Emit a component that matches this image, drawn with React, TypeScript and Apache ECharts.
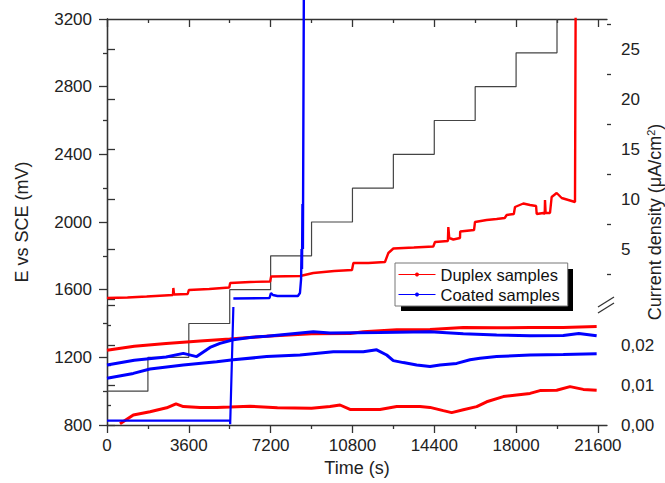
import React, { useEffect, useRef } from "react";
import * as echarts from "echarts";

// ---- axis ticks ----
const xTicksMajor = [0, 3600, 7200, 10800, 14400, 18000, 21600];
const xTicksMinor = [1800, 5400, 9000, 12600, 16200, 19800];
const upperTicksMajor = [0, 5, 10, 15, 20, 25];
const upperLabels = [5, 10, 15, 20, 25];
const upperTicksMinor = [2.5, 7.5, 12.5, 17.5, 22.5, 27.5];

// ---- applied potential staircase (mV vs SCE) ----
const stepTimes = [0, 1800, 3600, 5400, 7200, 9000, 10800, 12600, 14400, 16200, 18000, 19800];
const stepPotential = [1000, 1200, 1400, 1600, 1800, 2000, 2200, 2400, 2600, 2800, 3000, 3200];

// ---- current density, upper (broken) scale, µA/cm² ----
const duplexHigh: [number, number][] = [
  [0, 0.1], [900, 0.15], [1745, 0.25], [2900, 0.4], [2920, 1.1], [2950, 0.45], [3550, 0.5],
  [3600, 0.9], [4500, 1.0], [5380, 1.15], [5420, 1.6], [6300, 1.7], [7180, 1.75], [7220, 2.25],
  [8500, 2.3], [9077, 2.6], [10000, 2.8], [10780, 2.9], [10840, 3.6], [11500, 3.6], [12230, 3.7],
  [12380, 4.6], [12600, 5.05], [13500, 5.15], [14357, 5.25], [14432, 5.7], [15000, 5.8],
  [15018, 7.2], [15060, 6.1], [15238, 5.95], [15532, 6.1], [15540, 6.75], [16150, 6.9],
  [16192, 7.7], [16705, 7.9], [17145, 8.0], [17500, 8.1], [17587, 8.4], [17900, 8.5],
  [17952, 9.2], [18318, 9.55], [18612, 9.4], [18880, 9.3], [18906, 8.5], [19200, 8.6],
  [19260, 8.5], [19272, 9.9], [19300, 8.6], [19492, 8.6], [19565, 10.2], [19786, 10.6],
  [20006, 10.1], [20592, 9.7], [20636, 40],
];
const coatedHigh: [number, number][] = [
  [5560, 0.05], [7150, 0.1], [7215, 0.6], [7300, 0.4], [7500, 0.3], [8400, 0.3], [8490, 0.6],
  [8540, 2], [8560, 5], [8580, 3], [8600, 9.5], [8620, 5], [8660, 30],
];

// ---- current density, lower scale, µA/cm² ----
const duplexLowA: [number, number][] = [
  [0, 0.0187], [1200, 0.0197], [2600, 0.0204], [4100, 0.021], [5400, 0.0215], [7000, 0.0222],
  [9000, 0.0228], [10700, 0.0229], [11276, 0.0233], [12747, 0.0238], [14212, 0.0239],
  [15677, 0.0244], [17145, 0.0243], [18612, 0.0244], [20078, 0.0244], [21545, 0.0246],
];
const duplexLowB: [number, number][] = [
  [572, 0.0003], [1158, 0.0025], [1892, 0.0033], [2625, 0.0043], [3036, 0.0053], [3358, 0.0046],
  [4092, 0.0044], [4825, 0.0044], [5411, 0.0045], [6292, 0.0047], [7500, 0.0043], [9000, 0.0042],
  [9812, 0.0046], [10252, 0.005], [10692, 0.0039], [12012, 0.0039], [12747, 0.0046],
  [13772, 0.0046], [14212, 0.0044], [14798, 0.0036], [15166, 0.0031], [15677, 0.0038],
  [16266, 0.0046], [16706, 0.0058], [17438, 0.0071], [18025, 0.0075], [18612, 0.0079],
  [19052, 0.0086], [19786, 0.0087], [20372, 0.0096], [20958, 0.0089], [21545, 0.0087],
];
const coatedLowA: [number, number][] = [
  [0, 0.015], [1200, 0.0162], [2600, 0.017], [3358, 0.0179], [3945, 0.0171], [4532, 0.0194],
  [4972, 0.0204], [5558, 0.0213], [6292, 0.0219], [7026, 0.0222], [9077, 0.0233],
  [9812, 0.023], [12000, 0.0231], [14212, 0.0233], [15677, 0.0228], [17145, 0.0225],
  [18612, 0.0223], [20078, 0.0224], [20760, 0.0229], [21545, 0.0223],
];
const coatedLowB: [number, number][] = [
  [0, 0.0117], [1158, 0.0129], [1892, 0.014], [3358, 0.015], [4825, 0.0158], [5558, 0.0163],
  [7026, 0.0171], [8490, 0.0175], [9958, 0.0183], [11276, 0.0183], [11865, 0.0188],
  [12306, 0.0175], [12598, 0.0161], [13038, 0.0156], [13625, 0.015], [14212, 0.0146],
  [14652, 0.015], [15386, 0.0154], [15972, 0.0163], [16412, 0.0167], [17145, 0.0171],
  [18612, 0.0175], [20078, 0.0176], [21545, 0.0178],
];
const coatedLowC: [number, number][] = [
  [0, 0.0011], [5411, 0.0011], [5420, 0.0002], [5560, 0.0295],
];

const FONT = "'Liberation Sans', Arial, sans-serif";
const AXIS_COLOR = "#333";
const RED = "#ff0000";
const BLUE = "#0000ff";

const fmtPlain = (v: number) => String(v);
const fmtComma = (v: number) => (v > 0.029 ? "" : v.toFixed(2).replace(".", ","));

export default function App() {
  const ref = useRef<HTMLDivElement>(null);
  useEffect(() => {
    if (!ref.current) return;
    const chart = echarts.init(ref.current, undefined, { renderer: "svg" });
    const gridBase = { left: 107, right: 58, containLabel: false, outerBoundsMode: "none" } as any;
    const axisLine = { show: true, lineStyle: { color: AXIS_COLOR, width: 1.3 } };
    const labelStyle = { fontFamily: FONT, fontSize: 17, color: "#222" };

    const lineSeries = (name: string, data: any, color: string, width: number, xi: number, yi: number, extra: any = {}) => ({
      type: "line",
      name,
      data,
      xAxisIndex: xi,
      yAxisIndex: yi,
      symbol: "circle",
      symbolSize: 4,
      showSymbol: false,
      lineStyle: { color, width },
      itemStyle: { color },
      emphasis: { disabled: true },
      silent: true,
      ...extra,
    });

    chart.setOption({
      animation: false,
      backgroundColor: "#ffffff",
      grid: [
        { ...gridBase, top: 19, bottom: 58 },
        { ...gridBase, top: 305, bottom: 58 },
        { ...gridBase, top: 19, bottom: 184 },
      ],
      xAxis: [
        {
          gridIndex: 0, type: "value", position: "bottom", min: 0, max: 22000,
          axisLine,
          axisTick: { show: true, inside: false, length: 8, lineStyle: { color: AXIS_COLOR, width: 1.3 }, customValues: xTicksMajor },
          axisLabel: { ...labelStyle, margin: 12, customValues: xTicksMajor, formatter: fmtPlain },
          splitLine: { show: false },
          name: "Time (s)", nameLocation: "middle", nameGap: 31,
          nameTextStyle: { fontFamily: FONT, fontSize: 18, color: "#222" },
        },
        {
          gridIndex: 0, type: "value", position: "bottom", min: 0, max: 22000,
          axisLine: { show: false },
          axisTick: { show: true, inside: false, length: 4, lineStyle: { color: AXIS_COLOR, width: 1.3 }, customValues: xTicksMinor },
          axisLabel: { show: false },
          splitLine: { show: false },
        },
        {
          gridIndex: 0, type: "value", position: "top", min: 0, max: 22000,
          axisLine,
          axisTick: { show: true, inside: true, length: 8, lineStyle: { color: AXIS_COLOR, width: 1.3 }, customValues: xTicksMajor },
          axisLabel: { show: false },
          splitLine: { show: false },
        },
        {
          gridIndex: 0, type: "value", position: "top", min: 0, max: 22000,
          axisLine: { show: false },
          axisTick: { show: true, inside: true, length: 4, lineStyle: { color: AXIS_COLOR, width: 1.3 }, customValues: xTicksMinor },
          axisLabel: { show: false },
          splitLine: { show: false },
        },
        { gridIndex: 1, type: "value", min: 0, max: 22000, show: false },
        { gridIndex: 2, type: "value", min: 0, max: 22000, show: false },
      ],
      yAxis: [
        {
          gridIndex: 0, type: "value", position: "left", min: 800, max: 3200, interval: 400,
          axisLine,
          axisTick: { show: true, inside: false, length: 8, lineStyle: { color: AXIS_COLOR, width: 1.3 } },
          minorTick: { show: true, splitNumber: 2, length: 4, lineStyle: { color: AXIS_COLOR, width: 1.3 } },
          axisLabel: { ...labelStyle, margin: 15, formatter: fmtPlain },
          splitLine: { show: false },
          name: "E vs SCE (mV)", nameLocation: "middle", nameGap: 76,
          nameTextStyle: { fontFamily: FONT, fontSize: 18, color: "#222" },
        },
        {
          gridIndex: 0, type: "value", position: "right", min: 0, max: 1,
          axisLine: { show: false }, axisTick: { show: false }, axisLabel: { show: false },
          splitLine: { show: false },
          name: "{a|Current density (μA/cm}{s|2}{a|)}", nameLocation: "middle", nameGap: 38,
          nameTextStyle: {
            rich: {
              a: { fontFamily: FONT, fontSize: 18, color: "#222" },
              s: { fontFamily: FONT, fontSize: 11, color: "#222", padding: [0, 0, 9, 0] },
            },
          },
        },
        {
          gridIndex: 1, type: "value", position: "right", min: 0, max: 0.03, interval: 0.01,
          axisLine,
          axisTick: { show: true, inside: false, length: 8, lineStyle: { color: AXIS_COLOR, width: 1.3 } },
          minorTick: { show: true, splitNumber: 2, length: 4, lineStyle: { color: AXIS_COLOR, width: 1.3 } },
          axisLabel: { ...labelStyle, margin: 14, formatter: fmtComma },
          splitLine: { show: false },
        },
        {
          gridIndex: 2, type: "value", position: "right", min: 0, max: 28,
          axisLine,
          axisTick: { show: true, inside: false, length: 8, lineStyle: { color: AXIS_COLOR, width: 1.3 }, customValues: upperTicksMajor },
          axisLabel: { ...labelStyle, margin: 14, customValues: upperLabels, formatter: fmtPlain },
          splitLine: { show: false },
        },
        {
          gridIndex: 2, type: "value", position: "right", min: 0, max: 28,
          axisLine: { show: false },
          axisTick: { show: true, inside: false, length: 4, lineStyle: { color: AXIS_COLOR, width: 1.3 }, customValues: upperTicksMinor },
          axisLabel: { show: false },
          splitLine: { show: false },
        },
      ],
      legend: {
        orient: "vertical",
        left: 395,
        top: 263,
        padding: [3, 8, 3, 3],
        itemWidth: 37,
        itemHeight: 5,
        itemGap: 3,
        backgroundColor: "#ffffff",
        borderColor: "#777",
        borderWidth: 1,
        z: 10,
        selectedMode: false,
        textStyle: { fontFamily: FONT, fontSize: 16.5, color: "#111" },
        lineStyle: { width: 1 },
        data: ["Duplex samples", "Coated samples"],
      },
      graphic: [
        { type: "rect", z: 1, shape: { x: 401, y: 269, width: 172, height: 42 }, style: { fill: "#000" } },
        { type: "polygon", z: 20, shape: { points: [[598, 307], [614, 297], [614, 303], [598, 313]] }, style: { fill: "#fff" } },
        { type: "line", z: 21, shape: { x1: 598, y1: 307, x2: 614, y2: 297 }, style: { stroke: AXIS_COLOR, lineWidth: 1.3 } },
        { type: "line", z: 21, shape: { x1: 598, y1: 313, x2: 614, y2: 303 }, style: { stroke: AXIS_COLOR, lineWidth: 1.3 } },
      ],
      series: [
        {
          type: "line",
          data: stepTimes.map((t, i) => [t, stepPotential[i]]),
          xAxisIndex: 0, yAxisIndex: 0,
          step: "end",
          symbol: "none",
          lineStyle: { color: "#444", width: 1.2 },
          silent: true,
        },
        lineSeries("Duplex samples", duplexHigh, RED, 2.4, 5, 3),
        lineSeries("Coated samples", coatedHigh, BLUE, 2.4, 5, 3, { clip: false }),
        lineSeries("Duplex samples", duplexLowA, RED, 3, 4, 2),
        lineSeries("Duplex samples", duplexLowB, RED, 3, 4, 2),
        lineSeries("Coated samples", coatedLowA, BLUE, 3, 4, 2),
        lineSeries("Coated samples", coatedLowB, BLUE, 3, 4, 2),
        lineSeries("Coated samples", coatedLowC, BLUE, 2.2, 4, 2),
      ],
    });
    return () => chart.dispose();
  }, []);
  return (
    <div
      ref={ref}
      style={{ position: "fixed", left: 0, top: 0, width: 665, height: 483, background: "#fff" }}
    />
  );
}
